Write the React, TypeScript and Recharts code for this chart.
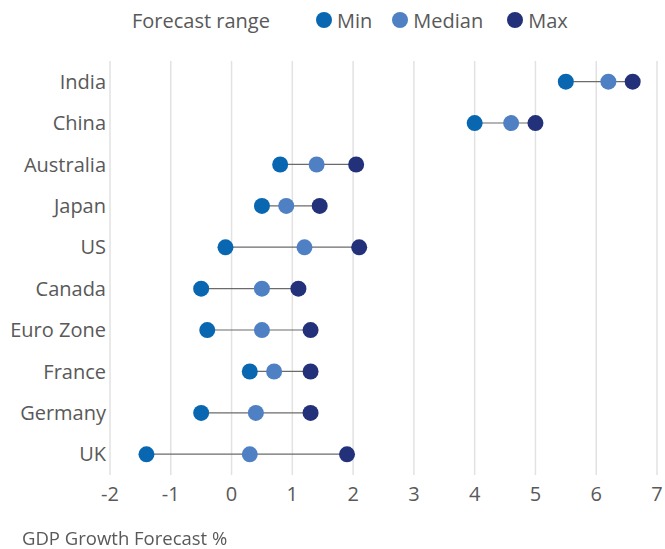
import { ComposedChart, Bar, Line, XAxis, YAxis, CartesianGrid, Legend } from 'recharts';

const countries = ['India', 'China', 'Australia', 'Japan', 'US', 'Canada', 'Euro Zone', 'France', 'Germany', 'UK'];
const minForecast = [5.5, 4.0, 0.8, 0.5, -0.1, -0.5, -0.4, 0.3, -0.5, -1.4];
const medianForecast = [6.2, 4.6, 1.4, 0.9, 1.2, 0.5, 0.5, 0.7, 0.4, 0.3];
const maxForecast = [6.6, 5.0, 2.05, 1.45, 2.1, 1.1, 1.3, 1.3, 1.3, 1.9];
const xTicks = [-2, -1, 0, 1, 2, 3, 4, 5, 6, 7];
const legendNames = ['Forecast range', 'Min', 'Median', 'Max'];
const legendGaps = [46, 20, 24, 0];

const FONT = '"Open Sans", sans-serif';
const TEXT = '#595959';
const COLORS: Record<string, string> = { Min: '#0867b0', Median: '#4e80c3', Max: '#23317a', range: '#6b6b6b' };

const data = countries.map((name, i) => ({
  name,
  min: minForecast[i],
  median: medianForecast[i],
  max: maxForecast[i],
  range: [minForecast[i], maxForecast[i]],
}));

// legend order is fixed: range label first, then the three dot series
const LegendContent = () => (
  <div style={{ display: 'flex', alignItems: 'center', height: 40, paddingLeft: 132, fontFamily: FONT, fontSize: 20, color: TEXT }}>
    {legendNames.map((name, i) => (
      <div key={name} style={{ display: 'flex', alignItems: 'center', marginRight: legendGaps[i] }}>
        {i > 0 && (
          <span style={{ width: 16, height: 16, borderRadius: 8, background: COLORS[name], marginRight: 5, display: 'inline-block' }} />
        )}
        <span>{name}</span>
      </div>
    ))}
  </div>
);

export default function App() {
  const tickStyle = { fill: TEXT, fontSize: 20, fontFamily: FONT };
  return (
    <div style={{ position: 'fixed', left: 0, top: 0, width: 665, height: 549, background: '#fff' }}>
      <ComposedChart
        layout="vertical"
        width={665}
        height={549}
        data={data}
        margin={{ top: 21, right: 8, bottom: 44, left: 0 }}
      >
        <CartesianGrid horizontal={false} stroke="#e2e2e2" strokeWidth={1.5} />
        <XAxis
          type="number"
          domain={[-2, 7]}
          ticks={xTicks}
          axisLine={false}
          tickLine={false}
          tickMargin={6}
          tick={tickStyle}
          height={30}
        />
        <YAxis
          type="category"
          dataKey="name"
          width={110}
          axisLine={false}
          tickLine={false}
          tickSize={0}
          tickMargin={4}
          interval={0}
          tick={tickStyle}
        />
        <Legend verticalAlign="top" content={<LegendContent />} wrapperStyle={{ left: 0, top: 0, width: 665 }} />
        <Bar dataKey="range" name="Forecast range" barSize={1.2} fill={COLORS.range} isAnimationActive={false} />
        <Line dataKey="min" name="Min" stroke="none"
          dot={{ r: 8, fill: COLORS.Min, stroke: 'none', strokeWidth: 0 }} activeDot={false} isAnimationActive={false} />
        <Line dataKey="median" name="Median" stroke="none"
          dot={{ r: 8, fill: COLORS.Median, stroke: 'none', strokeWidth: 0 }} activeDot={false} isAnimationActive={false} />
        <Line dataKey="max" name="Max" stroke="none"
          dot={{ r: 8, fill: COLORS.Max, stroke: 'none', strokeWidth: 0 }} activeDot={false} isAnimationActive={false} />
      </ComposedChart>
      <div style={{ position: 'absolute', left: 22, top: 527, fontFamily: FONT, fontSize: 18.5, lineHeight: '22px', color: TEXT, whiteSpace: 'nowrap' }}>
        GDP Growth Forecast %
      </div>
    </div>
  );
}
